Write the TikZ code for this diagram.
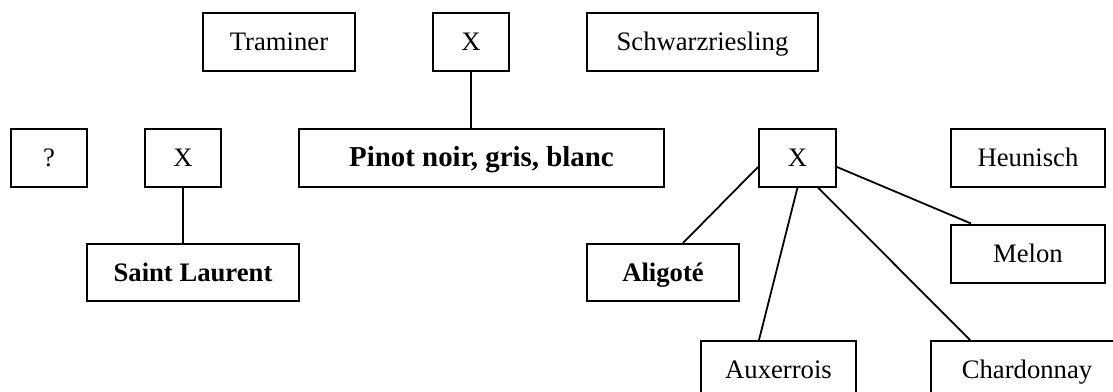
\documentclass[tikz,border=0pt,12pt]{standalone}
\usepackage{fontspec}
\setmainfont{Liberation Serif}
\usetikzlibrary{calc,positioning}

\newcommand{\pxs}{0.45pt}

\begin{document}
\begin{tikzpicture}[x=\pxs, y=-\pxs,
        vbox/.style={draw, line width=0.9pt, minimum height=58*\pxs, inner sep=0pt,
            text height=0.66em, text depth=0pt},
        vboldbox/.style={vbox, font=\bfseries},
        link/.style={line width=0.8pt}]

    \useasboundingbox (0,0) rectangle (1113,392);
    \clip (0,0) rectangle (1113,392);

    % top row
    \node[vbox, minimum width=152*\pxs] (traminer) at (279,42) {Traminer};
    \node[vbox, minimum width=76*\pxs] (crossT) at (471,42) {X};
    \node[vbox, minimum width=231*\pxs] (schwarz) at (702.5,42) {Schwarzriesling};

    % middle row
    \node[vbox, minimum width=76*\pxs] (unknown) at (49,157.5) {?};
    \node[vbox, minimum width=76*\pxs] (crossL) at (183,157.5) {X};
    \node[vboldbox, minimum width=365*\pxs, font=\fontsize{13}{15}\selectfont\bfseries] (pinot) at (481.5,157.5) {Pinot noir, gris, blanc};
    \node[vbox, minimum width=77*\pxs] (crossR) at (797.5,157.5) {X};
    \node[vbox, minimum width=154*\pxs] (heunisch) at (1028,157.5) {Heunisch};

    % lower rows
    \node[vboldbox, minimum width=212*\pxs, minimum height=57*\pxs] (stLaurent) at (193,272.5) {Saint Laurent};
    \node[vboldbox, minimum width=152*\pxs, minimum height=57*\pxs] (aligote) at (663,272.5) {Aligoté};
    \node[vbox, minimum width=154*\pxs] (melon) at (1028,253.5) {Melon};
    \node[vbox, minimum width=155*\pxs] (auxerrois) at (778.5,370) {Auxerrois};
    \node[vbox, minimum width=192*\pxs] (chardonnay) at (1027,370) {Chardonnay};

    % connectors
    \draw[link] (crossT.south) -- (crossT.south |- pinot.north);
    \draw[link] (crossL.south) -- (crossL.south |- stLaurent.north);
    \draw[link] ($(crossR.west)+(0,9.5)$) -- ($(aligote.north)+(20,0)$);
    \draw[link] (crossR.south) -- ($(auxerrois.north)+(-19.5,0)$);
    \draw[link] ($(crossR.south)+(20.5,0)$) -- ($(chardonnay.north west)+(40,0)$);
    \draw[link] ($(crossR.east)+(0,9.5)$) -- ($(melon.north west)+(21,0)$);
\end{tikzpicture}
\end{document}
